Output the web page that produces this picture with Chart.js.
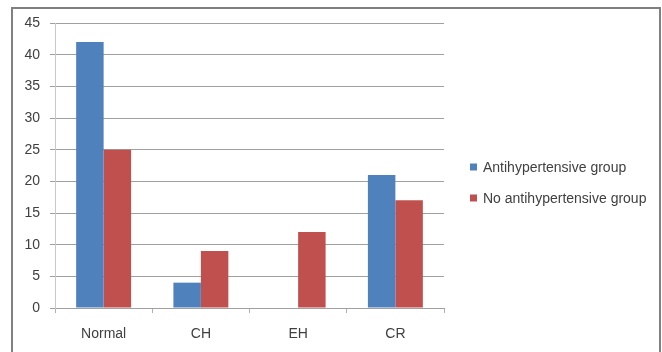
<!DOCTYPE html>
<html>
<head>
<meta charset="utf-8">
<script src="https://cdn.jsdelivr.net/npm/chart.js@4/dist/chart.umd.min.js"></script>
<style>
  html, body { margin: 0; padding: 0; background: #fff; overflow: hidden; }
  #wrap { position: relative; width: 662px; height: 352px; }
  #frame { position: absolute; left: 11px; top: 7px; width: 650px; height: 360px;
           border: 2px solid #808080; box-sizing: border-box; }
  #c { position: absolute; left: 0; top: 0; }
</style>
</head>
<body>
<div id="wrap">
  <div id="frame"></div>
  <canvas id="c" width="662" height="352"></canvas>
</div>
<script>
const categories = ['Normal', 'CH', 'EH', 'CR'];
const seriesNames = ['Antihypertensive group', 'No antihypertensive group'];
const antihypertensive = [42, 4, 0, 21];
const noAntihypertensive = [25, 9, 12, 17];
const yTicks = [0, 5, 10, 15, 20, 25, 30, 35, 40, 45];

const colors = ['#4f81bd', '#c0504d'];
const textColor = '#404040';
const fontSpec = { family: '"Liberation Sans", Arial, sans-serif', size: 14 };

// Legend drawn as a vertical list to the right of the plot
const sideLegend = {
  id: 'sideLegend',
  afterDraw(chart) {
    const ctx = chart.ctx;
    ctx.save();
    ctx.font = fontSpec.size + 'px ' + fontSpec.family;
    ctx.textBaseline = 'middle';
    ctx.textAlign = 'left';
    chart.data.datasets.forEach((ds, i) => {
      const cy = 167 + i * 31;
      ctx.fillStyle = ds.backgroundColor;
      ctx.fillRect(470, cy - 3.5, 7, 7);
      ctx.fillStyle = textColor;
      ctx.fillText(ds.label, 483, cy + 1);
    });
    ctx.restore();
  }
};

new Chart(document.getElementById('c'), {
  type: 'bar',
  data: {
    labels: categories,
    datasets: [
      { label: seriesNames[0], data: antihypertensive, backgroundColor: colors[0] },
      { label: seriesNames[1], data: noAntihypertensive, backgroundColor: colors[1] }
    ]
  },
  options: {
    responsive: false,
    animation: false,
    devicePixelRatio: 1,
    layout: { padding: { left: 0, right: 218, top: 23, bottom: 0 } },
    datasets: { bar: { categoryPercentage: 0.565, barPercentage: 1 } },
    plugins: { legend: { display: false }, tooltip: { enabled: false } },
    scales: {
      x: {
        afterFit(s) { s.height = 44; },
        grid: { display: true, drawOnChartArea: false, drawTicks: true, tickLength: 5,
                color: '#b0b0b0', offset: true },
        border: { display: true, color: '#a0a0a0', width: 1 },
        ticks: { color: textColor, font: fontSpec, padding: 13 }
      },
      y: {
        min: 0, max: 45,
        afterFit(s) { s.width = 55; },
        afterBuildTicks(s) { s.ticks = yTicks.map(v => ({ value: v })); },
        grid: { color: '#a0a0a0', lineWidth: 1, drawTicks: true, tickLength: 5 },
        border: { display: true, color: '#c8c8c8', width: 1 },
        ticks: { color: textColor, font: fontSpec, padding: 10 }
      }
    }
  },
  plugins: [sideLegend]
});
</script>
</body>
</html>
